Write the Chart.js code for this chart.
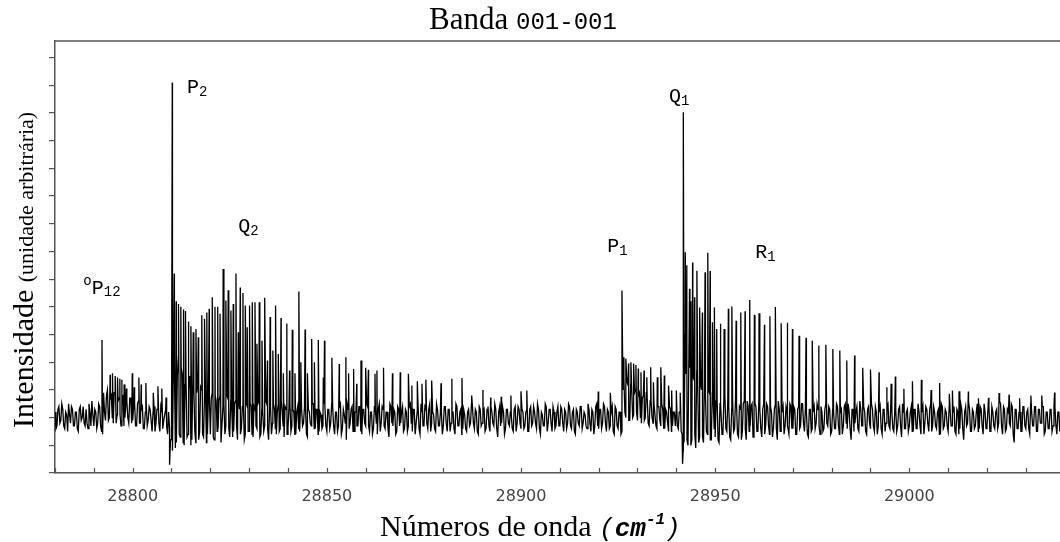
<!DOCTYPE html>
<html>
<head>
<meta charset="utf-8">
<title>Banda 001-001</title>
<script src="https://cdn.jsdelivr.net/npm/chart.js@4.4.1/dist/chart.umd.min.js"></script>
<style>
    html, body { margin: 0; padding: 0; background: #fff; }
    #wrap { width: 1060px; height: 542px; position: relative; }
</style>
</head>
<body>
<div id="wrap"><canvas id="spectrum"></canvas></div>
<script>
// axis ranges (cm-1 / arbitrary units)
const xMin = 28780, xMax = 29038.8;
const yMin = -2, yMax = 13.6;

// background trace, in tenths of a unit.
// trace: samples at 28780.0, 28780.5, ... ; traceMid: the samples in between
// (28780.25, 28780.75, ...). 10 cm-1 per row.
const traceStart = 28780;
const traceStep = 0.5;
const trace = [
     2, -3,  4, -1,  3, -4,  1,  5, -2,  3, -3,  2, -5,  4,  0, -2,  3, -4,  2,  6,
    -3,  2, -2,  4, -5,  9, -1, 10,  0,  8, -2,  9,  1,  7, -3,  8,  0,  6, -2,  7,
    -1,  5, -3,  6, -2,  4, -4,  5, -1,  3, -5,  4, -2,  3, -5,  2, -1,  3, -6, -4,
    -8, 20,-11, 15, -6, 18, -9, 12, -7, 10,-10, 14, -5,  9, -8, 11, -6,  8, -9,  7,
    -6,  9, -8,  6, -4,  8, -9,  5, -3,  7, -7,  4, -5,  6, -8,  3, -4,  5, -6,  4,
    -5,  4, -7,  3, -4,  6, -6,  2, -3,  5, -8,  4, -2,  3, -6,  5, -4,  2, -7,  3,
    -4,  5, -3,  2, -6,  4, -5,  3, -2,  4, -7,  2, -3,  5, -4,  3, -5,  1, -3,  4,
    -5,  3, -2,  4, -6,  2, -3,  5, -4,  1, -8,  3, -2,  4, -5,  2, -3,  4, -6,  3,
    -3,  4, -5,  2, -4,  3, -6,  5, -2,  3, -4,  2, -7,  4, -3,  2, -5,  3, -2,  4,
    -4,  2, -3,  5, -5,  3, -2,  4, -6,  2, -3,  3, -4,  5, -2,  1, -5,  3, -3,  2,
    -3,  4, -5,  3, -2,  2, -6,  4, -3,  3, -4,  1, -5,  3, -2,  4, -4,  2, -6,  3,
    -2,  3, -4,  4, -5,  2, -3,  3, -7,  4, -2,  2, -4,  3, -3,  1, -5,  4, -2,  3,
    -4,  2, -3,  3, -5,  4, -2,  2, -4,  3, -6,  1, -3,  4, -2,  3, -5,  2, -3,  4,
    -3,  3, -5,  2, -2,  4, -4,  3, -6,  2, -3,  4, -2,  1, -4,  3, -5,  2, -3,  5,
    -4,  3, -2,  4, -5,  2, -3,  4, -6,  3, -4,  2, -5, 14,  0, 12, -1, 11,  1, 10,
    -1,  9, -2,  8,  0,  7, -3,  6, -2,  5, -4,  4, -3,  3, -4,  2, -5,  3, -3,  2,
     3, -4,  2, -6, -9, 16,-10, 18, -8, 14,-11, 12, -7, 10, -9,  8, -6,  9, -8,  6,
    -7,  7, -9,  5, -6,  8, -5,  4, -8,  6, -4,  5, -7,  3, -5,  6, -8,  4, -3,  5,
    -6,  4, -5,  3, -7,  5, -3,  4, -6,  2, -4,  5, -8,  3, -5,  4, -3,  2, -6,  4,
    -4,  3, -6,  4, -3,  5, -5,  2, -7,  3, -4,  4, -2,  3, -6,  2, -4,  5, -3,  3,
    -5,  2, -4,  4, -6,  3, -3,  5, -4,  2, -8,  3, -2,  4, -5,  3, -3,  2, -6,  4,
    -4,  3, -5,  2, -3,  4, -6,  3, -2,  5, -4,  2, -5,  3, -3,  4, -7,  2, -4,  3,
    -3,  4, -5,  3, -4,  2, -6,  4, -2,  3, -5,  5, -3,  2, -4,  3, -6,  4, -3,  2,
    -5,  3, -3,  4, -6,  2, -4,  3, -8,  4, -2,  3, -5,  2, -3,  5, -4,  3, -6,  2,
    -3,  4, -5,  2, -4,  3, -2,  5, -6,  3, -4,  2, -3,  4, -9,  3, -4,  2, -5,  4,
    -4,  3, -6,  2, -3,  4, -5,  3, -2,  4, -5,  2, -4,  3, -3,  4, -6,  2
];
const traceMid = [
    -4,  3, -2,  5, -3,  2, -5,  1,  4, -3,  2, -4,  3, -1,  4, -3, -2,  5, -3,  1,
     3, -4,  5, -3, -6,  2,  8, -1,  7,  0,  9, -2,  6,  1,  8, -3,  5,  0,  7, -2,
     4, -3,  5, -2,  3, -4,  2, -3,  4, -1,  2, -5,  3, -2,  4, -4,  1, -3,  2, -8,
   -12, 18, -9, 22, -7, 16,-10, 13, -6, 15, -8, 11, -9, 12, -5, 10, -7,  9, -6,  8,
     7, -7,  8, -5,  6, -9,  4, -6,  8, -4,  6, -7,  5, -3,  7, -6,  4, -8,  5, -5,
     5, -6,  4, -3,  5, -7,  3, -5,  6, -4,  3, -6,  5, -4,  2, -5,  6, -3,  4, -6,
     4, -5,  3, -6,  2, -4,  5, -3,  4, -6,  3, -2,  5, -4,  3, -6,  2, -4,  5, -3,
     3, -4,  5, -3,  2, -5,  4, -6,  3, -2,  5, -4,  3, -5,  2, -3,  4, -5,  3, -2,
     5, -3,  2, -6,  4, -2,  3, -5,  4, -3,  2, -4,  5, -2,  3, -6,  4, -3,  2, -5,
     3, -5,  4, -2,  3, -6,  2, -4,  5, -3,  4, -2,  3, -5,  2, -4,  5, -3,  2, -6,
     4, -2,  3, -5,  2, -4,  5, -3,  2, -6,  3, -4,  2, -3,  5, -2,  3, -5,  4, -3,
     2, -5,  3, -3,  4, -2,  5, -4,  2, -3,  4, -6,  3, -2,  2, -4,  3, -5,  4, -2,
     3, -4,  2, -5,  3, -3,  4, -2,  5, -4,  2, -3,  5, -5,  3, -2,  4, -4,  2, -3,
     4, -2,  3, -4,  5, -3,  2, -5,  3, -2,  4, -4,  2, -3,  5, -2,  3, -6,  4, -3,
     3, -4,  5, -2,  3, -4,  2, -5,  4, -3,  2, -6, 10,  2, 13, -1, 12,  0,  9,  2,
     8,  0,  7, -1,  9, -2,  6,  0,  5, -3,  4, -1,  5, -4,  3, -2,  4, -5,  2, -3,
    -3,  2, -5,-12, 30, -8, 25,-10, 15, -6, 17, -9, 12, -7, 14, -5, 10, -8,  9, -4,
     6, -8,  5, -6,  7, -4,  6, -7,  3, -5,  7, -6,  4, -8,  5, -4,  6, -5,  4, -7,
     5, -5,  6, -4,  3, -6,  5, -3,  4, -7,  3, -4,  6, -5,  2, -6,  4, -3,  5, -4,
     4, -6,  3, -4,  5, -2,  4, -6,  3, -5,  2, -4,  5, -3,  4, -5,  3, -2,  4, -6,
     3, -4,  5, -3,  2, -6,  4, -2,  5, -4,  3, -5,  2, -4,  6, -3,  4, -5,  3, -2,
     5, -3,  4, -6,  2, -4,  3, -5,  4, -3,  6, -4,  2, -5,  3, -3,  5, -4,  2, -5,
     2, -5,  3, -4,  5, -3,  2, -6,  4, -2,  3, -5,  4, -3,  2, -6,  5, -4,  3, -3,
     4, -3,  2, -5,  3, -6,  5, -4,  2, -3,  6, -5,  3, -4,  2, -5,  4, -3,  5, -4,
     3, -5,  4, -3,  2, -4,  6, -3,  4, -5,  3, -2,  5, -6,  3, -4,  2, -5,  4, -3,
     2, -4,  5, -3,  4, -5,  3, -2,  4, -6,  2, -4,  3, -5,  4, -3,  2, -5
];

// oP12 branch
const opWn  = [28792.1, 28794.2, 28794.8, 28795.5, 28796.1, 28796.7, 28797.2, 28797.8, 28798.4,
               28799.9, 28800.4, 28801.6, 28802.2, 28803.4, 28805.3, 28806.5, 28807.5, 28808.6];
const opInt = [2.8, 1.55, 1.6, 1.5, 1.45, 1.4, 1.37, 1.2, 1.05,
               1.6, 1.1, 1.45, 1.2, 1.25, 0.9, 1.13, 1.05, 0.73];

// P2 head and Q2 branch
const p2Wn = [
    28810.2, 28810.7, 28811.2, 28811.8, 28812.4, 28813.1, 28813.6, 28814.3, 28815.0, 28815.6,
    28816.3, 28816.9, 28817.8, 28818.5, 28819.1, 28819.7, 28820.5, 28821.2, 28821.9, 28822.5,
    28823.3, 28824.0, 28824.6, 28825.3, 28825.9, 28826.6, 28827.2, 28827.7, 28828.4, 28829.0,
    28829.5, 28830.1, 28830.8, 28831.5, 28832.0, 28832.6, 28833.3, 28834.0, 28834.7, 28835.4,
    28836.1, 28836.8, 28837.5, 28838.2, 28838.8, 28839.7, 28840.4, 28841.1, 28841.8, 28842.8,
    28843.3, 28844.4, 28845.0, 28846.1, 28846.8, 28847.8, 28849.1, 28849.4, 28851.3, 28853.2,
    28854.9, 28855.6, 28856.9, 28857.7, 28858.8, 28860.0, 28860.7, 28862.4, 28862.9, 28864.6,
    28866.9, 28868.9, 28871.0, 28871.9, 28873.3, 28874.5, 28875.5, 28877.0, 28879.4, 28882.2,
    28884.8, 28887.3, 28890.2, 28892.2, 28894.9, 28897.4, 28900.0, 28901.5
];
const p2Int = [
    12.1, 5.2, 4.2, 4.1, 4.0, 3.9, 3.85, 3.47, 3.3, 3.08,
    3.2, 2.9, 3.7, 3.57, 3.8, 3.93, 4.35, 4.0, 4.0, 3.75,
    5.37, 4.23, 4.6, 3.87, 4.1, 5.2, 3.08, 4.7, 4.5, 4.05,
    3.26, 4.05, 4.17, 4.17, 2.67, 4.17, 2.78, 4.33, 2.06, 3.63,
    2.42, 4.05, 2.3, 3.6, 1.6, 3.4, 1.7, 3.17, 1.6, 4.55,
    2.0, 3.18, 1.6, 2.84, 2.0, 2.8, 1.45, 2.78, 2.16, 1.94,
    2.18, 1.6, 1.76, 1.22, 2.06, 1.8, 1.73, 1.58, 1.7, 1.8,
    1.6, 1.64, 1.58, 1.16, 1.31, 1.22, 1.37, 1.34, 1.24, 1.4,
    1.43, 0.8, 1.0, 0.73, 0.75, 0.8, 0.95, 0.98
];

// lone lines before P1
const gapWn  = [28919.9, 28923.0];
const gapInt = [0.94, 0.9];

// P1 branch
const p1Wn  = [28926.0, 28926.4, 28927.0, 28927.7, 28928.3, 28929.0, 28929.6, 28930.2, 28930.9, 28931.7,
               28932.4, 28933.4, 28934.1, 28935.1, 28936.0, 28936.9, 28938.0, 28938.8, 28940.0, 28941.0];
const p1Int = [4.59, 2.18, 2.13, 1.95, 2.0, 1.95, 1.9, 1.77, 1.64, 1.7,
               1.46, 1.82, 1.28, 1.46, 1.82, 1.52, 1.16, 0.98, 0.98, 0.9];

// Q1 head and R1 branch
const q1Wn = [
    28941.8, 28942.3, 28942.7, 28943.4, 28943.7, 28944.2, 28944.7, 28945.3, 28946.0, 28946.7,
    28947.4, 28948.1, 28948.7, 28949.3, 28949.8, 28950.4, 28951.3, 28952.3, 28953.4, 28954.3,
    28955.4, 28956.6, 28957.7, 28958.9, 28960.1, 28961.3, 28962.7, 28964.1, 28965.5, 28967.0,
    28968.5, 28969.9, 28971.6, 28973.4, 28975.0, 28976.7, 28978.5, 28980.3, 28982.1, 28983.9,
    28985.9, 28988.0, 28990.0, 28992.2, 28994.2, 28995.3, 28996.4, 28998.6, 29000.8, 29003.1,
    29005.6, 29007.8, 29010.3, 29011.1, 29012.8, 29015.2, 29017.8, 29020.4, 29023.1, 29025.7,
    29028.4, 29031.3, 29034.1, 29037.4
];
const q1Int = [
    11.03, 5.97, 5.5, 4.65, 4.2, 5.6, 4.35, 5.3, 3.98, 3.8,
    5.25, 5.95, 5.29, 3.44, 3.98, 3.2, 3.39, 3.2, 3.93, 4.01,
    3.5, 3.8, 3.84, 4.25, 3.71, 3.77, 3.35, 3.66, 3.99, 3.41,
    3.43, 3.2, 2.96, 2.88, 2.78, 2.6, 2.63, 2.48, 2.42, 2.06,
    2.24, 1.8, 1.74, 1.64, 1.1, 1.22, 1.48, 1.04, 1.31, 1.37,
    1.0, 1.25, 0.86, 0.98, 0.95, 0.94, 0.7, 0.72, 0.89, 0.83,
    0.7, 0.8, 0.8, 0.91
];

// negative spikes right at the two strong heads
const dipWn  = [28809.5, 28941.6];
const dipInt = [-1.7, -1.67];

// merge everything into one trace, sorted by wavenumber
const points = [];
trace.forEach((v, i) => points.push({ x: traceStart + i * traceStep, y: v / 10 }));
traceMid.forEach((v, i) => points.push({ x: traceStart + traceStep / 2 + i * traceStep, y: v / 10 }));
[[opWn, opInt], [p2Wn, p2Int], [gapWn, gapInt], [p1Wn, p1Int], [q1Wn, q1Int], [dipWn, dipInt]]
    .forEach(([wn, val]) => wn.forEach((w, i) => points.push({ x: w, y: val[i] })));
points.sort((a, b) => a.x - b.x);

const SERIF = '"Liberation Serif", "Times New Roman", serif';
const MONO = '"Liberation Mono", "Courier New", monospace';
const big = '20px ' + MONO;
const small = '14px ' + MONO;

// branch labels, anchored in data coordinates (left edge, baseline)
const branchLabels = [
    { at: [28787.3, 4.46], runs: [{ t: 'o', f: small, dy: -9 }, { t: 'P', f: big }, { t: '12', f: small, dy: 2 }] },
    { at: [28814.0, 11.72], runs: [{ t: 'P', f: big }, { t: '2', f: small, dy: 3 }] },
    { at: [28827.2, 6.7], runs: [{ t: 'Q', f: big }, { t: '2', f: small, dy: 3 }] },
    { at: [28922.2, 5.98], runs: [{ t: 'P', f: big }, { t: '1', f: small, dy: 3 }] },
    { at: [28938.1, 11.4], runs: [{ t: 'Q', f: big }, { t: '1', f: small, dy: 3 }] },
    { at: [28960.3, 5.76], runs: [{ t: 'R', f: big }, { t: '1', f: small, dy: 3 }] }
];

function runsWidth(ctx, runs) {
    let w = 0;
    runs.forEach(r => { ctx.font = r.f; w += ctx.measureText(r.t).width; });
    return w;
}

function drawRuns(ctx, runs, x, y) {
    runs.forEach(r => {
        ctx.font = r.f;
        ctx.fillText(r.t, x, y + (r.dy || 0));
        x += ctx.measureText(r.t).width;
    });
}

const decor = {
    id: 'decor',
    afterDraw(chart) {
        const ctx = chart.ctx;
        const area = chart.chartArea;
        const xs = chart.scales.x, ys = chart.scales.y;
        ctx.save();

        // top frame line
        ctx.strokeStyle = '#555';
        ctx.lineWidth = 1.3;
        ctx.beginPath();
        ctx.moveTo(area.left, area.top);
        ctx.lineTo(area.right, area.top);
        ctx.stroke();

        // x ticks pointing into the plot
        ctx.lineWidth = 1.2;
        xs.ticks.forEach(t => {
            const px = Math.round(xs.getPixelForValue(t.value)) + 0.5;
            ctx.beginPath();
            ctx.moveTo(px, area.bottom);
            ctx.lineTo(px, area.bottom - 5);
            ctx.stroke();
        });

        ctx.fillStyle = '#000';
        ctx.textBaseline = 'alphabetic';
        ctx.textAlign = 'left';

        // title
        const title = [{ t: 'Banda ', f: '31px ' + SERIF }, { t: '001-001', f: '24px ' + MONO }];
        drawRuns(ctx, title, 523 - runsWidth(ctx, title) / 2, 29);

        // x axis title
        const xTitle = [
            { t: 'Números de onda ', f: '30px ' + SERIF },
            { t: '(', f: 'italic 26px ' + MONO },
            { t: 'cm', f: 'italic bold 26px ' + MONO },
            { t: '-1', f: 'italic bold 16px ' + MONO, dy: -12 },
            { t: ')', f: 'italic 26px ' + MONO }
        ];
        drawRuns(ctx, xTitle, 380, 536);

        // y axis title
        ctx.save();
        ctx.translate(33, 428);
        ctx.rotate(-Math.PI / 2);
        drawRuns(ctx, [{ t: 'Intensidade ', f: '30px ' + SERIF }, { t: '(unidade arbitrária)', f: '22px ' + SERIF }], 0, 0);
        ctx.restore();

        // branch labels
        branchLabels.forEach(l => {
            drawRuns(ctx, l.runs, xs.getPixelForValue(l.at[0]), ys.getPixelForValue(l.at[1]));
        });

        ctx.restore();
    }
};

new Chart(document.getElementById('spectrum'), {
    type: 'line',
    data: {
        datasets: [{
            data: points,
            borderColor: '#000',
            borderWidth: 1.3,
            pointRadius: 0,
            tension: 0,
            fill: false
        }]
    },
    options: {
        responsive: true,
        maintainAspectRatio: false,
        animation: false,
        events: [],
        layout: { padding: { top: 41, right: 0, left: 0, bottom: 0 } },
        scales: {
            x: {
                type: 'linear',
                min: xMin,
                max: xMax,
                afterFit: s => { s.height = 69; },
                grid: { display: false, drawTicks: false },
                border: { display: true, color: '#555', width: 1.5 },
                ticks: {
                    stepSize: 10,
                    includeBounds: false,
                    autoSkip: false,
                    maxRotation: 0,
                    padding: 14,
                    color: '#444',
                    font: { family: 'DejaVu Sans', size: 16 },
                    callback: v => (v % 50 === 0 ? String(v) : '')
                }
            },
            y: {
                min: yMin,
                max: yMax,
                afterFit: s => { s.width = 55; },
                grid: { drawOnChartArea: false, drawTicks: true, tickLength: 6, color: '#555', lineWidth: 1.2 },
                border: { display: true, color: '#555', width: 1.5 },
                ticks: { stepSize: 1, includeBounds: false, display: false }
            }
        },
        plugins: {
            legend: { display: false },
            tooltip: { enabled: false }
        }
    },
    plugins: [decor]
});
</script>
</body>
</html>
